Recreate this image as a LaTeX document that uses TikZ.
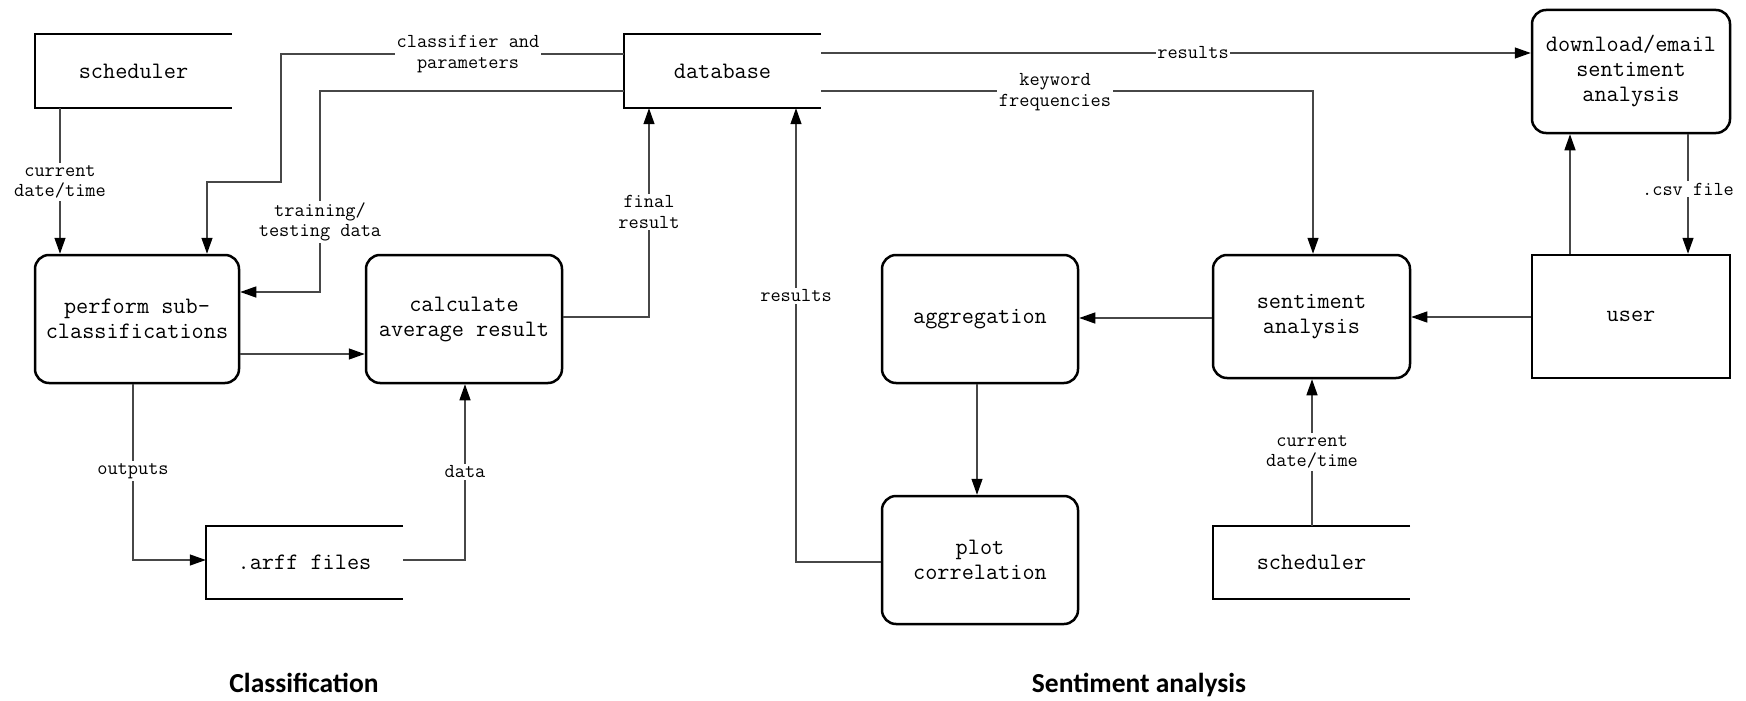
\documentclass[tikz,border=0pt]{standalone}
\usepackage{fontspec}
\newfontfamily\carlitofam{Carlito}
\usetikzlibrary{arrows.meta}
\newcommand\nfontbox{\ttfamily\fontsize{23.6}{25}\selectfont}
\newcommand\nfontlbl{\ttfamily\fontsize{19.8}{20.5}\selectfont}
\newcommand\nfonttitle{\carlitofam\bfseries\fontsize{27.5}{32}\selectfont}
\tikzset{
  rbox/.style={draw, line width=2.5pt, rounded corners=14pt, align=center, font=\nfontbox, inner sep=0pt},
  sqbox/.style={draw, line width=2.5pt, align=center, font=\nfontbox, inner sep=0pt},
  storebox/.style={align=center, font=\nfontbox, inner sep=0pt},
  storeline/.style={line width=2.5pt},
  conn/.style={line width=1.3pt, draw=black!72, -{Triangle[length=16pt,width=11pt,color=black]}},
  lbl/.style={fill=white, font=\nfontlbl, align=center, inner sep=2pt},
  ttl/.style={font=\nfonttitle, anchor=base}
}
\begin{document}
\begin{tikzpicture}[x=1pt,y=-1pt]
\useasboundingbox (0,0) rectangle (1746,701);

% ---------- nodes ----------
\node[storebox, minimum width=197pt, minimum height=74pt] (schedL) at (133.5,71) {scheduler};
\node[rbox, minimum width=204pt, minimum height=128pt] (perform) at (137,319) {perform sub-\\classifications};
\node[rbox, minimum width=196pt, minimum height=128pt] (calc) at (464,319) {calculate\\average result};
\node[storebox, minimum width=197pt, minimum height=74pt] (db) at (722.5,71) {database};
\node[storebox, minimum width=197pt, minimum height=73pt] (arff) at (304.5,562.5) {.arff files};
\node[rbox, minimum width=196pt, minimum height=128pt] (agg) at (980,319) {aggregation};
\node[rbox, minimum width=196pt, minimum height=128pt] (plot) at (980,560) {plot\\correlation};
\node[rbox, minimum width=197pt, minimum height=123pt] (sent) at (1311.5,316.5) {sentiment\\analysis};
\node[sqbox, minimum width=198pt, minimum height=123pt] (user) at (1631,316.5) {user};
\node[rbox, minimum width=198pt, minimum height=123pt] (dl) at (1631,71.5) {download/email\\sentiment\\analysis};
\node[storebox, minimum width=197pt, minimum height=73pt] (schedR) at (1311.5,562.5) {scheduler};

% data-store outlines (open on the right)
\draw[storeline] (schedL.north east) -| (schedL.south west) -- (schedL.south east);
\draw[storeline] (db.north east) -| (db.south west) -- (db.south east);
\draw[storeline] (arff.north east) -| (arff.south west) -- (arff.south east);
\draw[storeline] (schedR.north east) -| (schedR.south west) -- (schedR.south east);

% ---------- waypoints ----------
\coordinate (k1) at (60,0);
\coordinate (a1) at (281,54);
\coordinate (a2) at (281,182);
\coordinate (a3) at (207,182);
\coordinate (b1) at (320,91);
\coordinate (b2) at (320,292);
\coordinate (c1) at (0,354);
\coordinate (d1) at (649,317);
\coordinate (e1) at (133,560);
\coordinate (f1) at (465,560);
\coordinate (g1) at (0,53);
\coordinate (h1) at (1313,91);
\coordinate (i1) at (796,562);
\coordinate (j1) at (977,0);
\coordinate (l1) at (0,318);
\coordinate (m1) at (0,317);
\coordinate (n1) at (1570,0);
\coordinate (o1) at (1688,0);
\coordinate (p1) at (1312,0);

% ---------- connectors ----------
\draw[conn] (schedL.south -| k1) -- (perform.north -| k1);
\draw[conn] (db.west |- a1) -- (a1) -- (a2) -- (a3) -- (perform.north -| a3);
\draw[conn] (db.west |- b1) -- (b1) -- (b2) -- (perform.east |- b2);
\draw[conn] (perform.east |- c1) -- (calc.west |- c1);
\draw[conn] (calc.east |- d1) -- (d1) -- (db.south -| d1);
\draw[conn] (perform.south -| e1) -- (e1) -- (arff.west |- e1);
\draw[conn] (arff.east |- f1) -- (f1) -- (calc.south -| f1);
\draw[conn] (db.east |- g1) -- (dl.west |- g1);
\draw[conn] (db.east |- h1) -- (h1) -- (sent.north -| h1);
\draw[conn] (plot.west |- i1) -- (i1) -- (db.south -| i1);
\draw[conn] (agg.south -| j1) -- (plot.north -| j1);
\draw[conn] (sent.west |- l1) -- (agg.east |- l1);
\draw[conn] (user.west |- m1) -- (sent.east |- m1);
\draw[conn] (user.north -| n1) -- (dl.south -| n1);
\draw[conn] (dl.south -| o1) -- (user.north -| o1);
\draw[conn] (schedR.north -| p1) -- (sent.south -| p1);

% ---------- labels ----------
\node[lbl] (lab1) at (60,182) {current\\date/time};
\node[lbl] (lab2) at (468,54) {classifier and\\parameters};
\node[lbl] (lab3) at (320,222) {training/\\testing data};
\node[lbl] (lab4) at (649,212) {final\\result};
\node[lbl] (lab5) at (133,471) {outputs};
\node[lbl] (lab6) at (465,472) {data};
\node[lbl, inner sep=1pt] (lab7) at (1193,53) {results};
\node[lbl] (lab8) at (1055,92) {keyword\\frequencies};
\node[lbl] (lab9) at (796,296) {results};
\node[lbl] (lab10) at (1688,189) {.csv file};
\node[lbl] (lab11) at (1312,452) {current\\date/time};

% ---------- titles ----------
\node[ttl] (t1) at (304,692) {Classification};
\node[ttl] (t2) at (1139,692) {Sentiment analysis};
\end{tikzpicture}
\end{document}
